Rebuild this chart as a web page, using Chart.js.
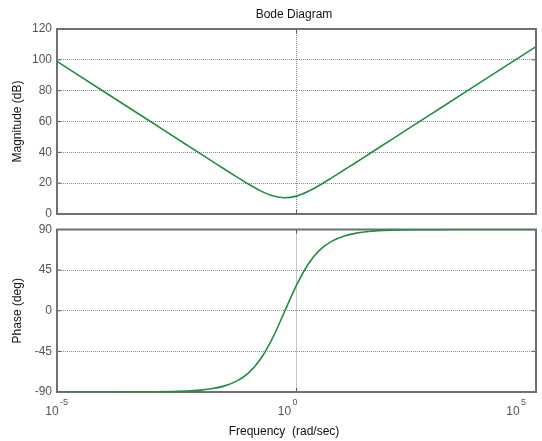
<!DOCTYPE html>
<html>
<head>
<meta charset="utf-8">
<script src="https://cdn.jsdelivr.net/npm/chart.js@4/dist/chart.umd.min.js"></script>
<style>
  body { margin: 0; background: #fff; }
  #wrap { position: relative; width: 542px; height: 441px; }
  .box { position: absolute; left: 0; width: 542px; }
</style>
</head>
<body>
<div id="wrap">
  <div class="box" style="top:0;height:230px"><canvas id="magChart"></canvas></div>
  <div class="box" style="top:210px;height:231px"><canvas id="phaseChart"></canvas></div>
</div>
<script>
// frequency points (rad/sec)
var freq = [1e-5, 1e-4, 1e-3, 3.16e-3, 1e-2, 1.78e-2, 3.16e-2, 5.62e-2, 0.1, 0.178, 0.316, 0.562,
            1, 1.78, 3.16, 5.62, 10, 17.8, 31.6, 100, 316, 1000, 1e4, 1e5];
var magnitude = [99.0, 79.0, 59.0, 49.0, 39.0, 34.0, 29.0, 24.1, 19.3, 15.0, 11.8, 10.5,
                 11.6, 14.7, 19.0, 23.8, 28.7, 33.6, 38.6, 48.6, 58.6, 68.6, 88.6, 108.6];
var phase = [-90, -90, -89.8, -89.3, -87.9, -86.2, -83.2, -78.0, -68.8, -53.5, -30.4, -1.1,
             28.4, 52.1, 67.9, 77.4, 82.9, 86.0, 87.8, 89.3, 89.8, 89.9, 90, 90];
var freqTicks = [1e-5, 1, 1e5];
var freqExp = ["-5", "0", "5"];
var magTicks = [0, 20, 40, 60, 80, 100, 120];
var phaseTicks = [-90, -45, 0, 45, 90];

var FONT = "'Liberation Sans', Arial, sans-serif";
var lineColor = "#1f8f3f";

function pts(ys) {
    return freq.map(function(f, i) { return {x: f, y: ys[i]}; });
}

// grey frame and small inner ticks like the matlab axes box
var framePlugin = {
    id: "frame",
    beforeDatasetsDraw: function(chart) {
        var a = chart.chartArea, ctx = chart.ctx;
        var xs = chart.scales.x, ys = chart.scales.y;
        ctx.save();
        ctx.strokeStyle = "#555";
        ctx.lineWidth = 1;
        ctx.beginPath();
        xs.ticks.forEach(function(t) {
            var px = xs.getPixelForValue(t.value);
            ctx.moveTo(px, a.top); ctx.lineTo(px, a.top + 4);
            ctx.moveTo(px, a.bottom); ctx.lineTo(px, a.bottom - 4);
        });
        ys.ticks.forEach(function(t) {
            var py = ys.getPixelForValue(t.value);
            ctx.moveTo(a.left, py); ctx.lineTo(a.left + 4, py);
            ctx.moveTo(a.right, py); ctx.lineTo(a.right - 4, py);
        });
        ctx.stroke();
        ctx.strokeStyle = "#707070";
        ctx.lineWidth = 2;
        ctx.strokeRect(a.left, a.top, a.right - a.left, a.bottom - a.top);
        ctx.restore();
    }
};

// 10^n labels and x title under the phase plot
var freqLabels = {
    id: "freqLabels",
    afterDraw: function(chart) {
        var a = chart.chartArea, ctx = chart.ctx, xs = chart.scales.x;
        var shift = [-5, -12, -23];
        ctx.save();
        ctx.fillStyle = "#555";
        ctx.textBaseline = "middle";
        freqTicks.forEach(function(v, i) {
            var px = xs.getPixelForValue(v) + shift[i];
            ctx.font = "12px " + FONT;
            ctx.textAlign = "center";
            ctx.fillText("10", px, a.bottom + 20);
            ctx.textAlign = "left";
            ctx.font = "9px " + FONT;
            ctx.fillText(freqExp[i], px + 8, a.bottom + 11);
        });
        ctx.fillStyle = "#111";
        ctx.font = "12px " + FONT;
        ctx.textAlign = "center";
        ctx.fillText("Frequency  (rad/sec)", 284, a.bottom + 40);
        ctx.restore();
    }
};

var titlePlugin = {
    id: "bodeTitle",
    afterDraw: function(chart) {
        var ctx = chart.ctx;
        ctx.save();
        ctx.fillStyle = "#111";
        ctx.font = "12px " + FONT;
        ctx.textAlign = "center";
        ctx.textBaseline = "middle";
        ctx.fillText("Bode Diagram", 294, 15);
        ctx.restore();
    }
};

function makeChart(id, data, yMin, yMax, yTicks, yTitle, padding, extra) {
    var ctx = document.getElementById(id).getContext("2d");
    return new Chart(ctx, {
        type: "line",
        data: {
            datasets: [{
                data: pts(data),
                borderColor: lineColor,
                borderWidth: 1.6,
                pointRadius: 0,
                fill: false,
                cubicInterpolationMode: "monotone"
            }]
        },
        options: {
            responsive: true,
            maintainAspectRatio: false,
            animation: false,
            events: [],
            layout: { padding: padding },
            plugins: { legend: { display: false }, tooltip: { enabled: false } },
            scales: {
                x: {
                    type: "logarithmic",
                    min: 1e-5,
                    max: 1e5,
                    afterBuildTicks: function(s) {
                        s.ticks = freqTicks.map(function(v) { return {value: v}; });
                    },
                    ticks: { display: false },
                    grid: { color: "#8a8a8a", lineWidth: 1, drawTicks: false },
                    border: { display: false, dash: [1, 1] }
                },
                y: {
                    min: yMin,
                    max: yMax,
                    afterBuildTicks: function(s) {
                        s.ticks = yTicks.map(function(v) { return {value: v}; });
                    },
                    afterFit: function(s) { s.width = 57; },
                    ticks: {
                        color: "#555",
                        padding: 5,
                        font: { family: FONT, size: 12 }
                    },
                    grid: { color: "#8a8a8a", lineWidth: 1, drawTicks: false },
                    border: { display: false, dash: [1, 1] },
                    title: {
                        display: true,
                        text: yTitle,
                        color: "#111",
                        font: { family: FONT, size: 12 },
                        padding: { top: 10, bottom: 0 }
                    }
                }
            }
        },
        plugins: [framePlugin].concat(extra)
    });
}

makeChart("magChart", magnitude, 0, 120, magTicks, "Magnitude (dB)",
          { left: 0, right: 6, top: 29, bottom: 16 }, [titlePlugin]);
makeChart("phaseChart", phase, -90, 90, phaseTicks, "Phase (deg)",
          { left: 0, right: 6, top: 19.5, bottom: 49 }, [freqLabels]);
</script>
</body>
</html>
